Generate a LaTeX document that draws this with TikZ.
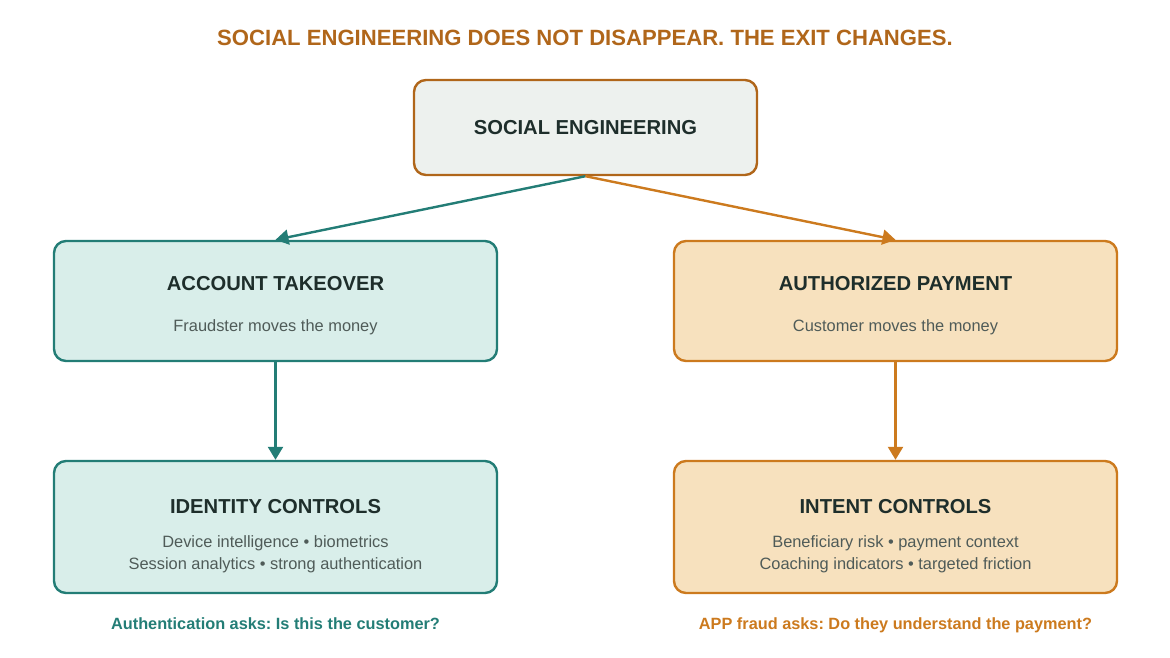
\documentclass[tikz,border=0pt]{standalone}
\usepackage{fontspec}
\setmainfont{Liberation Sans}
\frenchspacing
\usetikzlibrary{arrows.meta}
\definecolor{teal1}{HTML}{237D76}
\definecolor{tealfill}{HTML}{D9EEEA}
\definecolor{orange1}{HTML}{CC7A1E}
\definecolor{orangefill}{HTML}{F7E1BE}
\definecolor{brown1}{HTML}{B0661A}
\definecolor{topfill}{HTML}{EDF1EE}
\definecolor{darktext}{HTML}{1E2E2B}
\definecolor{subtext}{HTML}{4F5B58}
\tikzset{
  box/.style={draw, line width=2.4pt, rounded corners=12pt, inner sep=0pt},
  tealbox/.style={box, draw=teal1, fill=tealfill, minimum width=443pt},
  orangebox/.style={box, draw=orange1, fill=orangefill, minimum width=443pt},
  ttl/.style={font=\bfseries\fontsize{20.2}{24}\selectfont, text=darktext, text height=0.72em, text depth=0pt},
  sub/.style={font=\fontsize{16.4}{22}\selectfont, text=subtext, align=center},
  ask/.style={font=\bfseries\fontsize{16.3}{20}\selectfont, text height=0.72em, text depth=0.21em},
  arr/.style={line width=2.4pt, -{Triangle[length=13pt,width=15pt]}},
}
\begin{document}
\begin{tikzpicture}[x=1pt,y=-1pt]
\useasboundingbox (0,0) rectangle (1170,658);
\node[font=\bfseries\fontsize{22.1}{26}\selectfont, text=brown1, text height=0.72em, text depth=0pt] (title) at (585,42) {SOCIAL ENGINEERING DOES NOT DISAPPEAR. THE EXIT CHANGES.};
\node[box, draw=brown1, fill=topfill, minimum width=343pt, minimum height=95pt] (top) at (585.5,127.5) {};
\node[ttl] (topt) at (585.5,131) {SOCIAL ENGINEERING};
\node[tealbox, minimum height=120pt] (ato) at (275.5,301) {};
\node[ttl] (atot) at (275.5,287) {ACCOUNT TAKEOVER};
\node[sub, text height=0.72em, text depth=0.21em] (atos) at (275.5,329) {Fraudster moves the money};
\node[orangebox, minimum height=120pt] (app) at (895.5,301) {};
\node[ttl] (appt) at (895.5,287) {AUTHORIZED PAYMENT};
\node[sub, text height=0.72em, text depth=0.21em] (apps) at (895.5,329) {Customer moves the money};
\node[tealbox, minimum height=132pt] (idc) at (275.5,527) {};
\node[ttl] (idct) at (275.5,510) {IDENTITY CONTROLS};
\node[sub] (idcs) at (275.5,554) {Device intelligence • biometrics\\Session analytics • strong authentication};
\node[orangebox, minimum height=132pt] (inc) at (895.5,527) {};
\node[ttl] (inct) at (895.5,510) {INTENT CONTROLS};
\node[sub] (incs) at (895.5,554) {Beneficiary risk • payment context\\Coaching indicators • targeted friction};
\node[ask, text=teal1] (q1) at (275.5,627) {Authentication asks: Is this the customer?};
\node[ask, text=orange1] (q2) at (895.5,627) {APP fraud asks: Do they understand the payment?};
\draw[arr, teal1] (top.south) -- (ato.north);
\draw[arr, orange1] (top.south) -- (app.north);
\draw[arr, teal1] (ato.south) -- (idc.north);
\draw[arr, orange1] (app.south) -- (inc.north);
\end{tikzpicture}
\end{document}
